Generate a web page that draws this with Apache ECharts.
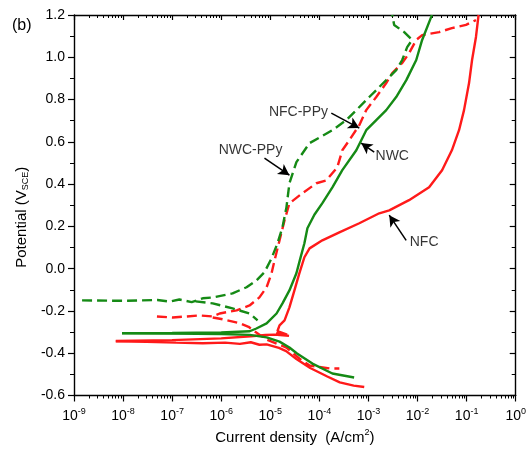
<!DOCTYPE html>
<html><head><meta charset="utf-8">
<script src="https://cdn.jsdelivr.net/npm/echarts@6/dist/echarts.min.js"></script>
<style>html,body{margin:0;padding:0;background:#fff}#c{width:529px;height:450px}</style>
</head><body><div id="c"></div>
<script>
// ---- data (current density in A/cm2, potential in V vs SCE) ----
const nfcCathI = [7.1e-9, 3e-8, 1.2e-7, 4.2e-7, 1.2e-6, 2.4e-6, 4e-6, 6e-6, 8.4e-6, 1.5e-5, 2.1e-5, 3.4e-5, 6.5e-5, 1.45e-4, 2.6e-4, 5.0e-4, 8.2e-4];
const nfcCathE = [-0.344, -0.346, -0.350, -0.353, -0.350, -0.356, -0.348, -0.360, -0.358, -0.375, -0.390, -0.427, -0.470, -0.510, -0.538, -0.553, -0.560];
const nfcAnodI = [7.1e-9, 1e-7, 1e-6, 4e-6, 8e-6, 1.2e-5, 2.4e-5, 1.3e-5, 2.2e-5, 1.4e-5, 1.54e-5, 1.95e-5, 2.45e-5, 3.1e-5, 3.9e-5, 4.95e-5, 6.3e-5, 1.15e-4, 2.55e-4, 6.5e-4, 1.66e-3, 2.65e-3, 6.7e-3, 1.72e-2, 3.16e-2, 5.0e-2, 7.0e-2, 8.85e-2, 0.112, 0.129, 0.155, 0.175];
const nfcAnodE = [-0.342, -0.338, -0.330, -0.320, -0.314, -0.312, -0.318, -0.307, -0.312, -0.295, -0.268, -0.245, -0.183, -0.103, -0.022, 0.054, 0.096, 0.134, 0.172, 0.215, 0.262, 0.276, 0.324, 0.385, 0.466, 0.560, 0.655, 0.750, 0.878, 0.987, 1.096, 1.2];

const nwcCathI = [9.5e-9, 1e-7, 1e-6, 3.8e-6, 8.4e-6, 1.54e-5, 2.45e-5, 3.5e-5, 7.2e-5, 1.84e-4, 5.1e-4];
const nwcCathE = [-0.306, -0.307, -0.309, -0.313, -0.325, -0.345, -0.373, -0.401, -0.449, -0.496, -0.515];
const nwcAnodI = [9.5e-9, 1e-7, 1e-6, 3.8e-6, 5.2e-6, 8.4e-6, 1.34e-5, 1.77e-5, 2.45e-5, 3.4e-5, 4.1e-5, 4.95e-5, 5.7e-5, 7.9e-5, 1.15e-4, 1.84e-4, 2.93e-4, 5.65e-4, 9.0e-4, 1.44e-3, 2.3e-3, 3.67e-3, 5.9e-3, 9.4e-3, 1.24e-2, 1.89e-2, 1.95e-2];
const nwcAnodE = [-0.305, -0.304, -0.302, -0.296, -0.283, -0.259, -0.212, -0.164, -0.103, -0.022, 0.050, 0.120, 0.191, 0.255, 0.310, 0.385, 0.466, 0.560, 0.655, 0.703, 0.750, 0.812, 0.892, 0.987, 1.082, 1.19, 1.2];

const nwcPpyCathI = [3e-7, 6.7e-7, 1.7e-6, 3.78e-6, 5.5e-6];
const nwcPpyCathE = [-0.155, -0.164, -0.188, -0.212, -0.245];
const nwcPpyAnodI = [1.46e-9, 1e-8, 5e-8, 9e-8, 1.4e-7, 2.5e-7, 4.2e-7, 6.7e-7, 1.7e-6, 3.28e-6, 5.25e-6, 7.6e-6, 1.06e-5, 1.4e-5, 1.77e-5, 2.13e-5, 2.45e-5, 3.4e-5, 6.3e-5, 1.84e-4, 3.54e-4, 5.65e-4, 1.04e-3, 2.3e-3, 3.67e-3, 4.86e-3, 6.15e-3, 7.76e-3, 5.35e-3, 3.34e-3, 3.05e-3];
const nwcPpyAnodE = [-0.150, -0.152, -0.148, -0.156, -0.146, -0.158, -0.140, -0.136, -0.117, -0.088, -0.055, -0.017, 0.049, 0.120, 0.196, 0.290, 0.404, 0.504, 0.594, 0.655, 0.703, 0.750, 0.812, 0.892, 0.939, 0.987, 1.048, 1.082, 1.119, 1.153, 1.2];

const nfcPpyCathI = [6.7e-7, 1.0e-6, 2.4e-6, 3.6e-6, 5e-6, 8.4e-6, 2.13e-5, 3.9e-5, 6.3e-5, 1.6e-4, 2.55e-4];
const nfcPpyCathE = [-0.231, -0.238, -0.258, -0.275, -0.300, -0.335, -0.373, -0.425, -0.458, -0.472, -0.472];
const nfcPpyAnodI = [4.9e-8, 1.03e-7, 2e-7, 3.6e-7, 6.7e-7, 9.3e-7, 2.06e-6, 3.78e-6, 6.0e-6, 8.4e-6, 1.06e-5, 1.22e-5, 1.54e-5, 1.95e-5, 2.45e-5, 4.5e-5, 8.7e-5, 1.39e-4, 2.32e-4, 2.93e-4, 4.07e-4, 6.5e-4, 9.0e-4, 1.44e-3, 2.3e-3, 3.05e-3, 4.86e-3, 6.75e-3, 9.4e-3, 1.24e-2, 2.75e-2, 5.0e-2, 9.7e-2, 0.155];
const nfcPpyAnodE = [-0.226, -0.231, -0.226, -0.221, -0.226, -0.212, -0.197, -0.174, -0.136, -0.088, -0.022, 0.039, 0.134, 0.229, 0.309, 0.357, 0.404, 0.418, 0.480, 0.560, 0.608, 0.679, 0.750, 0.812, 0.878, 0.925, 0.973, 1.020, 1.082, 1.105, 1.119, 1.138, 1.153, 1.176];

// annotations
const annText = ['NFC-PPy', 'NWC-PPy', 'NWC', 'NFC'];
const annTextI = [3.74e-5, 3.96e-6, 3.05e-3, 1.36e-2];
const annTextE = [0.741, 0.560, 0.532, 0.125];
const arrowFromI = [1.75e-4, 7.6e-6, 1.31e-3, 5.86e-3];
const arrowFromE = [0.736, 0.523, 0.551, 0.134];
const arrowToI = [6.5e-4, 2.45e-5, 7.1e-4, 2.65e-3];
const arrowToE = [0.665, 0.442, 0.594, 0.253];

// axis ticks
const xMinExp = -9, xMaxExp = 0;
const yMin = -0.6, yMax = 1.2, yStep = 0.2;

const RED = '#ff1a1a', GREEN = '#158a15';
const FONT = 'Liberation Sans, Arial, sans-serif';

const zip = (a, b) => a.map((v, i) => [v, b[i]]);
const minorLog = [];
for (let e = xMinExp; e < xMaxExp; e++) for (let k = 2; k <= 9; k++) minorLog.push(e + Math.log10(k));
const majorLog = [];
for (let e = xMinExp; e <= xMaxExp; e++) majorLog.push(e);

function curve(I, E, color, dashed) {
  return {
    type: 'line', xAxisIndex: 0, yAxisIndex: 0, data: zip(I, E),
    showSymbol: false, symbol: 'none', clip: true, silent: true,
    lineStyle: { color: color, width: 2.4, type: dashed ? [10, 5] : 'solid' }
  };
}

const axisLineStyle = { color: '#000', width: 1.4 };
const chart = echarts.init(document.getElementById('c'));
chart.setOption({
  animation: false,
  backgroundColor: '#fff',
  grid: { left: 74, right: 13, top: 15, bottom: 54, containLabel: false },
  graphic: [{ type: 'text', left: 12, top: 18, style: { text: '(b)', fontSize: 16, fontFamily: FONT, fill: '#000' } }],
  xAxis: [
    { type: 'log', logBase: 10, min: Math.pow(10, xMinExp), max: Math.pow(10, xMaxExp), splitNumber: 9, position: 'bottom',
      axisLine: { onZero: false, lineStyle: axisLineStyle },
      axisTick: { length: 6, lineStyle: { color: '#000', width: 1.2 } },
      splitLine: { show: false },
      axisLabel: { margin: 12, color: '#000', fontFamily: FONT,
        formatter: v => '{b|10}{e|' + Math.round(Math.log10(v)) + '}',
        rich: { b: { fontSize: 14, fontFamily: FONT, color: '#000' }, e: { fontSize: 9, fontFamily: FONT, color: '#000', padding: [0, 0, 9, 0] } } },
      name: 'Current density  (A/cm{s|2})', nameLocation: 'middle', nameGap: 33,
      nameTextStyle: { fontSize: 15, fontFamily: FONT, color: '#000', rich: { s: { fontSize: 9, fontFamily: FONT, color: '#000', padding: [0, 0, 9, 0] } } } },
    { type: 'value', min: xMinExp, max: xMaxExp, position: 'bottom',
      axisLine: { show: false, onZero: false }, axisLabel: { show: false }, splitLine: { show: false },
      axisTick: { show: true, length: 3, customValues: minorLog, lineStyle: { color: '#000', width: 1 } } },
    { type: 'value', min: xMinExp, max: xMaxExp, position: 'top',
      axisLine: { show: true, onZero: false, lineStyle: axisLineStyle }, axisLabel: { show: false }, splitLine: { show: false },
      axisTick: { show: true, inside: true, length: 5, customValues: majorLog, lineStyle: { color: '#000', width: 1.2 } } },
    { type: 'value', min: xMinExp, max: xMaxExp, position: 'top',
      axisLine: { show: false, onZero: false }, axisLabel: { show: false }, splitLine: { show: false },
      axisTick: { show: true, inside: true, length: 3, customValues: minorLog, lineStyle: { color: '#000', width: 1 } } }
  ],
  yAxis: [
    { type: 'value', min: yMin, max: yMax, interval: yStep, position: 'left',
      axisLine: { show: true, onZero: false, lineStyle: axisLineStyle },
      axisTick: { show: true, length: 6, lineStyle: { color: '#000', width: 1.2 } },
      minorTick: { show: true, splitNumber: 2, length: 4, lineStyle: { color: '#000', width: 1 } },
      splitLine: { show: false },
      axisLabel: { margin: 9, fontSize: 14, fontFamily: FONT, color: '#000', formatter: v => v.toFixed(1) },
      name: 'Potential (V{s|SCE})', nameLocation: 'middle', nameGap: 44, nameRotate: 90,
      nameTextStyle: { fontSize: 15, fontFamily: FONT, color: '#000', padding: [0, 24, 0, 0],
        rich: { s: { fontSize: 9, fontFamily: FONT, color: '#000', padding: [7, 0, 0, 0] } } } },
    { type: 'value', min: yMin, max: yMax, interval: yStep, position: 'right',
      axisLine: { show: true, onZero: false, lineStyle: axisLineStyle },
      axisTick: { show: true, inside: true, length: 6, lineStyle: { color: '#000', width: 1.2 } },
      minorTick: { show: true, splitNumber: 2, length: 4, lineStyle: { color: '#000', width: 1 } },
      splitLine: { show: false }, axisLabel: { show: false } }
  ],
  series: [
    curve(nfcCathI, nfcCathE, RED, false),
    curve(nfcAnodI, nfcAnodE, RED, false),
    curve(nfcPpyCathI, nfcPpyCathE, RED, true),
    curve(nfcPpyAnodI, nfcPpyAnodE, RED, true),
    curve(nwcCathI, nwcCathE, GREEN, false),
    curve(nwcAnodI, nwcAnodE, GREEN, false),
    curve(nwcPpyCathI, nwcPpyCathE, GREEN, true),
    curve(nwcPpyAnodI, nwcPpyAnodE, GREEN, true),
    { type: 'scatter', xAxisIndex: 0, yAxisIndex: 0, silent: true, symbolSize: 0,
      data: annText.map((t, i) => ({ value: [annTextI[i], annTextE[i]], name: t })),
      label: { show: true, position: 'inside', formatter: p => p.name, fontSize: 14, fontFamily: FONT, color: '#000', textBorderWidth: 0 },
      markLine: { silent: true, symbol: ['none', 'arrow'], symbolSize: [9, 11], animation: false,
        lineStyle: { color: '#000', width: 1.5, type: 'solid' }, label: { show: false }, emphasis: { disabled: true },
        data: annText.map((t, i) => [{ coord: [arrowFromI[i], arrowFromE[i]] }, { coord: [arrowToI[i], arrowToE[i]] }]) } }
  ]
});
</script></body></html>
